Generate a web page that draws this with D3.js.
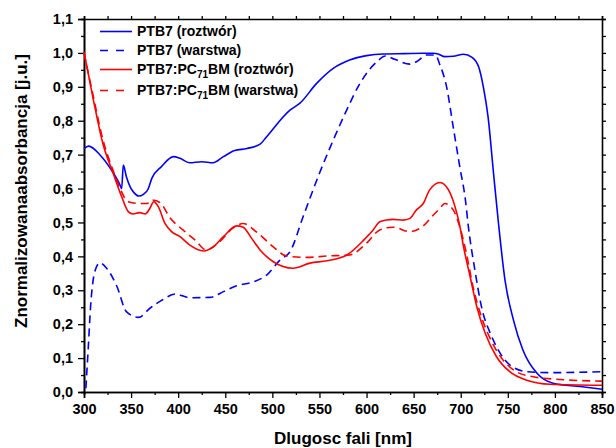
<!DOCTYPE html>
<html>
<head>
<meta charset="utf-8">
<script src="https://cdnjs.cloudflare.com/ajax/libs/d3/7.8.5/d3.min.js"></script>
<style>
    body { margin: 0; background: #fff; }
    svg { display: block; font-family: "Liberation Sans", Arial, sans-serif; }
    .tick-label { font-size: 14.5px; font-weight: bold; fill: #000; }
    .axis-title { font-size: 17px; font-weight: bold; fill: #000; }
    .legend-label { font-size: 14px; font-weight: bold; fill: #000; }
    .curve { fill: none; stroke-width: 1.6px; }
</style>
</head>
<body>
<svg id="chart" width="616" height="448"></svg>
<script>
// Tick values of both axes
const xTicks = [300, 350, 400, 450, 500, 550, 600, 650, 700, 750, 800, 850];
const yTicks = [0.0, 0.1, 0.2, 0.3, 0.4, 0.5, 0.6, 0.7, 0.8, 0.9, 1.0, 1.1];

// PTB7 (roztwór)
const ptb7SolX = [300, 305, 317, 329, 338, 340, 341.7, 345, 349, 353, 358, 363, 368, 372, 382, 395, 402, 412, 425, 437, 448, 460, 473, 487, 494, 519, 529, 547, 565, 582, 600, 618, 640, 660, 671, 676, 683, 692, 703, 712, 719, 724, 729, 735, 740, 747, 756, 766, 781, 798, 827, 850];
const ptb7SolY = [0.718, 0.725, 0.699, 0.655, 0.612, 0.600, 0.669, 0.635, 0.605, 0.588, 0.578, 0.583, 0.598, 0.630, 0.664, 0.694, 0.689, 0.676, 0.679, 0.676, 0.694, 0.712, 0.718, 0.731, 0.753, 0.832, 0.851, 0.910, 0.955, 0.979, 0.992, 0.997, 0.998, 0.999, 0.999, 0.997, 0.989, 0.990, 0.996, 0.987, 0.959, 0.900, 0.812, 0.640, 0.500, 0.330, 0.212, 0.124, 0.055, 0.026, 0.016, 0.008];

// PTB7 (warstwa)
const ptb7FilmX = [302, 304.6, 307, 312, 317, 324, 335, 345, 358, 370, 384, 397, 412, 434, 448, 462, 480, 494, 508, 519, 533, 550, 565, 579, 593, 611, 620, 630, 646, 653, 664, 673, 678, 685, 692, 699, 705, 708, 715, 722, 733, 742, 752, 770, 795, 850];
const ptb7FilmY = [0.011, 0.134, 0.252, 0.360, 0.381, 0.365, 0.311, 0.237, 0.220, 0.247, 0.273, 0.289, 0.278, 0.279, 0.296, 0.313, 0.325, 0.345, 0.389, 0.415, 0.520, 0.645, 0.745, 0.832, 0.910, 0.974, 0.991, 0.981, 0.967, 0.974, 0.994, 0.994, 0.964, 0.900, 0.782, 0.664, 0.566, 0.490, 0.360, 0.252, 0.163, 0.114, 0.080, 0.060, 0.057, 0.060];

// PTB7:PC71BM (roztwór)
const blendSolX = [300, 310, 320, 331, 340, 347, 352, 359, 365, 370, 374, 379, 386, 393, 402, 412, 427, 437, 448, 462, 469, 478, 487, 501, 522, 540, 558, 579, 597, 607, 614, 621, 628, 639, 646, 653, 660, 667, 678, 687, 694, 699, 703, 710, 717, 726, 738, 752, 770, 795, 850];
const blendSolY = [1.003, 0.861, 0.733, 0.645, 0.576, 0.532, 0.525, 0.529, 0.525, 0.542, 0.561, 0.546, 0.497, 0.473, 0.458, 0.434, 0.416, 0.428, 0.458, 0.490, 0.486, 0.453, 0.419, 0.384, 0.365, 0.380, 0.387, 0.404, 0.448, 0.478, 0.502, 0.507, 0.509, 0.507, 0.512, 0.537, 0.555, 0.596, 0.618, 0.596, 0.546, 0.490, 0.428, 0.340, 0.252, 0.173, 0.104, 0.060, 0.035, 0.023, 0.020];

// PTB7:PC71BM (warstwa)
const blendFilmX = [300, 310, 320, 330, 340, 345, 351, 359, 367, 373, 381, 391, 405, 418, 430, 444, 458, 469, 484, 501, 515, 537, 558, 582, 600, 614, 628, 646, 659, 671, 678, 683, 692, 699, 706, 713, 722, 733, 745, 759, 777, 805, 850];
const blendFilmY = [1.000, 0.870, 0.745, 0.660, 0.590, 0.565, 0.558, 0.556, 0.556, 0.566, 0.558, 0.515, 0.478, 0.448, 0.419, 0.443, 0.483, 0.497, 0.470, 0.428, 0.401, 0.397, 0.401, 0.404, 0.439, 0.478, 0.486, 0.473, 0.487, 0.522, 0.542, 0.556, 0.537, 0.487, 0.409, 0.311, 0.222, 0.148, 0.094, 0.060, 0.045, 0.037, 0.032];

const seriesList = [
    { name: 'PTB7 (roztwór)', x: ptb7SolX, y: ptb7SolY, color: '#0000ff', dashed: false },
    { name: 'PTB7 (warstwa)', x: ptb7FilmX, y: ptb7FilmY, color: '#0000ff', dashed: true },
    { name: 'PTB7:PC|71|BM (roztwór)', x: blendSolX, y: blendSolY, color: '#ff0000', dashed: false },
    { name: 'PTB7:PC|71|BM (warstwa)', x: blendFilmX, y: blendFilmY, color: '#ff0000', dashed: true }
];

const margin = { top: 19, right: 14, bottom: 56, left: 84 };
const width = 616 - margin.left - margin.right;
const height = 448 - margin.top - margin.bottom;

const svg = d3.select('#chart')
    .append('g')
    .attr('transform', `translate(${margin.left},${margin.top})`);

const xScale = d3.scaleLinear().domain([300, 850]).range([0, width]);
const yScale = d3.scaleLinear().domain([0, 1.1]).range([height, 0]);

// Format numbers with a comma as decimal separator
const commaFormat = d => d3.format('.1f')(d).replace('.', ',');

// Minor ticks sit half way between the major ones
const xMinor = d3.range(325, 850, 50);
const yMinor = d3.range(0.05, 1.1, 0.1);

// Bottom axis
svg.append('g')
    .attr('transform', `translate(0,${height})`)
    .call(d3.axisBottom(xScale).tickValues(xTicks).tickSize(6).tickPadding(6).tickFormat(d3.format('d')));
svg.append('g')
    .attr('transform', `translate(0,${height})`)
    .call(d3.axisBottom(xScale).tickValues(xMinor).tickSize(3).tickFormat(''));
// Left axis
svg.append('g')
    .call(d3.axisLeft(yScale).tickValues(yTicks).tickSize(6).tickPadding(5).tickFormat(commaFormat));
svg.append('g')
    .call(d3.axisLeft(yScale).tickValues(yMinor).tickSize(3).tickFormat(''));
// Top and right axes only carry small ticks
svg.append('g')
    .call(d3.axisTop(xScale).tickValues(xTicks.concat(xMinor)).tickSize(3).tickFormat(''));
svg.append('g')
    .attr('transform', `translate(${width},0)`)
    .call(d3.axisRight(yScale).tickValues(yTicks.concat(yMinor)).tickSize(4).tickFormat(''));

svg.selectAll('.domain').attr('stroke', '#000').attr('stroke-width', 1.6);
svg.selectAll('.tick line').attr('stroke', '#000').attr('stroke-width', 1.3);
svg.selectAll('.tick text').attr('class', 'tick-label').attr('font-size', null).attr('font-family', null);

// Axis titles
svg.append('text')
    .attr('class', 'axis-title')
    .attr('x', width / 2)
    .attr('y', height + 52)
    .attr('text-anchor', 'middle')
    .text('Dlugosc fali [nm]');
svg.append('text')
    .attr('class', 'axis-title')
    .attr('transform', `translate(${21 - margin.left},${191 - margin.top}) rotate(-90)`)
    .attr('text-anchor', 'middle')
    .attr('dy', '0.35em')
    .text('Znormalizowanaabsorbancja [j.u.]');

// Curves
const line = d3.line()
    .x(d => xScale(d[0]))
    .y(d => yScale(d[1]))
    .curve(d3.curveMonotoneX);

for (let s of seriesList) {
    let points = s.x.map((x, i) => [x, s.y[i]]);
    svg.append('path')
        .attr('class', 'curve')
        .attr('d', line(points))
        .attr('stroke', s.color)
        .attr('stroke-dasharray', s.dashed ? '8,5' : null);
}

// Legend
const legendRows = [31.5, 50.5, 69.5, 90.5];
seriesList.forEach((s, i) => {
    let rowY = legendRows[i] - margin.top;
    svg.append('line')
        .attr('x1', 100 - margin.left)
        .attr('x2', 132 - margin.left)
        .attr('y1', rowY)
        .attr('y2', rowY)
        .attr('stroke', s.color)
        .attr('stroke-width', 1.6)
        .attr('stroke-dasharray', s.dashed ? '8,8' : null);

    let label = svg.append('text')
        .attr('class', 'legend-label')
        .attr('x', 137 - margin.left)
        .attr('y', rowY)
        .attr('dy', '0.35em');
    // "|" marks the subscript part of the name
    let parts = s.name.split('|');
    label.append('tspan').text(parts[0]);
    if (parts.length > 1) {
        label.append('tspan')
            .attr('font-size', '10px')
            .attr('dy', '4')
            .text(parts[1]);
        label.append('tspan')
            .attr('dy', '-4')
            .text(parts[2]);
    }
});
</script>
</body>
</html>
